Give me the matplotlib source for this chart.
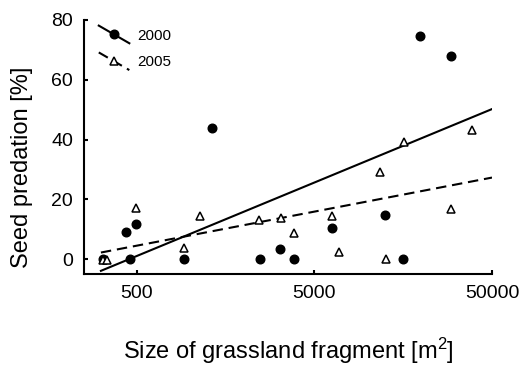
import numpy as np
import matplotlib
matplotlib.use("Agg")
import matplotlib.pyplot as plt
from matplotlib.lines import Line2D
from matplotlib.legend_handler import HandlerBase

plt.rcParams['font.family'] = ['Liberation Sans', 'DejaVu Sans']
plt.rcParams['mathtext.fontset'] = 'custom'
plt.rcParams['mathtext.rm'] = 'Liberation Sans'
plt.rcParams['mathtext.it'] = 'Liberation Sans'

# fragment size [m2] and seed predation [%]
x2000 = [324, 435, 460, 496, 925, 1330, 2470, 3200, 3830, 6250, 12530, 15880, 19600, 29500]
y2000 = [0, 9.1, 0, 11.8, 0, 43.8, 0, 3.2, 0, 10.4, 14.6, 0, 74.6, 67.8]

x2005 = [322, 339, 496, 925, 1138, 2450, 3230, 3830, 6280, 6930, 11700, 12600, 15900, 29500, 38400]
y2005 = [-0.3, -0.3, 17, 3.7, 14.4, 13.2, 13.8, 8.6, 14.4, 2.5, 29.1, -0.1, 39.1, 16.6, 43.3]

# regression y = a + b*log10(x)
fit2000 = (-65.4, 24.6)
fit2005 = (-26.3, 11.4)
fit_range = (315, 50000)

xticks = [500, 5000, 50000]
yticks = [0, 20, 40, 60, 80]


class SlopedHandler(HandlerBase):
    # legend handle drawn as a sloped line with the marker in the middle
    def create_artists(self, legend, orig, xd, yd, w, h, fs, trans):
        ln = Line2D([-xd, -xd + w], [-yd + h, -yd])
        ln.update_from(orig)
        ln.set_marker('None')
        ln.set_transform(trans)
        mk = Line2D([-xd + w / 2], [-yd + h / 2])
        mk.update_from(orig)
        mk.set_linestyle('None')
        mk.set_transform(trans)
        return [ln, mk]


fig = plt.figure(figsize=(5.22, 3.65), dpi=100)
ax = fig.add_axes([84 / 522, 91 / 365, 408 / 522, 254 / 365])

xs = np.logspace(np.log10(fit_range[0]), np.log10(fit_range[1]), 50)
dash = (0, (5, 2.8))
ax.plot(xs, fit2000[0] + fit2000[1] * np.log10(xs), color='black', lw=1.5, zorder=2)
ax.plot(xs, fit2005[0] + fit2005[1] * np.log10(xs), color='black', lw=1.5, ls=dash, zorder=2)

ax.plot(x2000, y2000, 'o', color='black', ms=6.2, zorder=3)
ax.plot(x2005, y2005, '^', mfc='white', mec='black', mew=1.1, ms=6, zorder=4)

ax.set_xscale('log')
ax.set_xlim(253, 50000)
ax.set_ylim(-5, 80)
ax.set_xticks(xticks)
ax.set_xticklabels([str(t) for t in xticks])
ax.minorticks_off()
ax.set_yticks(yticks)

for s in ['top', 'right']:
    ax.spines[s].set_visible(False)
for s in ['left', 'bottom']:
    ax.spines[s].set_linewidth(1.5)
ax.tick_params(direction='in', length=3.2, width=1.5, labelsize=14, pad=8)

ax.set_xlabel(r'Size of grassland fragment [m$^2$]', fontsize=17)
ax.set_ylabel('Seed predation [%]', fontsize=17)
ax.xaxis.set_label_coords(0.5, -0.242)
ax.yaxis.set_label_coords(-0.125, 0.42)

h1 = Line2D([], [], color='black', lw=1.5, marker='o', ms=6.2)
h2 = Line2D([], [], color='black', lw=1.5, ls=dash, marker='^', mfc='white', mec='black', mew=1.1, ms=6)
ax.legend([h1, h2], ['2000', '2005'], handler_map={Line2D: SlopedHandler()},
          loc='upper left', bbox_to_anchor=(0.01, 1.02), frameon=False, fontsize=11,
          handlelength=2.0, handleheight=1.4, handletextpad=0.5, labelspacing=0.6,
          borderaxespad=0.3)

fig.savefig('out.png', dpi=100)
